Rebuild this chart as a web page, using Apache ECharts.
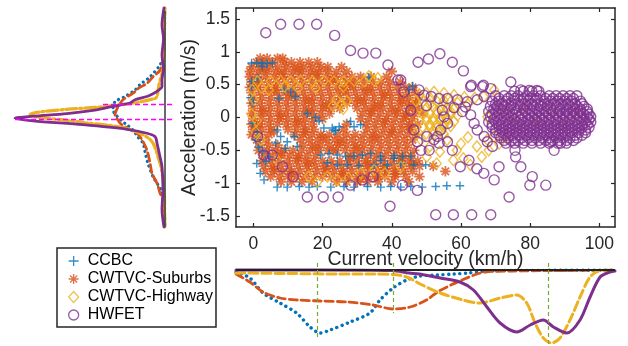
<!DOCTYPE html>
<html><head><meta charset="utf-8">
<script src="https://cdn.jsdelivr.net/npm/echarts@6/dist/echarts.min.js"></script>
<style>html,body{margin:0;padding:0;background:#fff}#c{width:628px;height:346px}</style>
</head><body><div id="c"></div>
<script>
// ---------- tick labels ----------
const xTicks = [0, 20, 40, 60, 80, 100];
const yTicks = [-1.5, -1, -0.5, 0, 0.5, 1, 1.5];
const seriesNames = ['CCBC', 'CWTVC-Suburbs', 'CWTVC-Highway', 'HWFET'];

// ---------- scatter data [velocity km/h, acceleration m/s] ----------
const ccbcPts = [
[-0.5,0.83],[1,0.83],[2.5,0.83],[4,0.82],[5.5,0.83],[2.6,0.78],[-0.5,0.55],[-0.5,0.47],[1.3,0.6],[-0.8,0.3],[0,0.22],
[8.9,0.42],[10.8,0.39],[12.2,0.32],[7.4,0.29],[33.4,0.61],[46,0.48],[45,0.42],
[-0.3,-0.09],[1.2,-0.22],[0.7,-0.34],[6.9,-0.19],[7.9,-0.29],[9.8,-0.37],[11.8,-0.29],[12.7,-0.44],[9.3,-0.47],[6.5,-0.39],[4.5,-0.6],[3.6,-0.67],[2.6,-0.52],[1.5,-0.45],
[20.4,-0.16],[22.8,-0.16],[23.3,-0.19],[23.8,-0.2],[24.8,-0.14],[28.1,-0.06],[29.1,-0.14],[31,-0.11],[15.6,0.06],[18,0],[19,-0.05],
[19.5,-0.57],[21.9,-0.55],[24.3,-0.57],[26.7,-0.59],[29.1,-0.59],[31.5,-0.57],[33.9,-0.55],[36.8,-0.59],[40.7,-0.58],[43.1,-0.59],[45.5,-0.59],
[21.4,-0.69],[24.3,-0.72],[27.2,-0.72],[30.5,-0.73],[34.9,-0.72],[38.7,-0.72],[42.6,-0.7],[46.4,-0.72],[49.8,-0.72],[36.8,-0.65],[40.7,-0.62],
[3.1,-0.95],[1,-0.7],[2,-0.85],
[6.9,-1.06],[9.8,-1.06],[13.3,-1.05],[16.1,-1.06],[18.5,-1.05],[22.4,-1.06],[26.2,-1.05],[29.1,-1.06],[33,-1.05],[36.8,-1.06],[39.7,-1.05],[42.6,-1.06],[45.5,-1.05],[48.8,-1.06],[52.7,-1.05],[55.9,-1.04],[59.7,-1.04]
];
// CWTVC-Suburbs: rows of [acceleration, [velocities]]
const suburbsRows = [
[0.90,[2,4,7,8.5]],
[0.84,[1,3,5.5,9,11,13.5,16,18.5]],
[0.77,[-0.5,2,4.5,7,9.5,12,14.5,17,19.5,21.5,25.5]],
[0.70,[-1,1.5,4,6.5,9,11.5,14,16.5,19,21.5,24,27,40]],
[0.62,[-1,1,3.5,6,8.5,11,13.5,16,18.5,21,23.5,26,28.5,31,34,38.5]],
[0.54,[-0.5,2,4.5,7,9.5,12,14.5,17,19.5,22,24.5,27,29.5,32,34.5,37,39.5,42.5]],
[0.46,[-1,1.5,4,6.5,9,11.5,14,16.5,19,21.5,24,26.5,29,31.5,34,36.5,39,41.5,44,46]],
[0.38,[-0.5,2,4.5,7,9.5,12,14.5,17,19.5,22,24.5,27,29.5,32,34.5,37,39.5,42,44.5,47]],
[0.30,[0,2.5,5,7.5,10,12.5,15,17.5,20,22.5,25,27.5,30,32.5,35,37.5,40,42.5,45,47.5]],
[0.22,[-0.5,2,4.5,7,9.5,12,14.5,17,19.5,22,24.5,27,29.5,32,34.5,37,39.5,42,44.5,47]],
[0.14,[0,2.5,5,7.5,10,12.5,15,17.5,20,22.5,25,30,32.5,35,37.5,40,42.5,45,47.5]],
[0.06,[-0.5,2,4.5,7,9.5,12,14.5,17,19.5,22,31.5,34,36.5,39,41.5,44,46.5,49]],
[-0.02,[0,2.5,5,7.5,10,12.5,15,17.5,20,31,33.5,36,38.5,41,43.5,46]],
[-0.10,[-0.5,2,4.5,7,9.5,12,14.5,17,27,32.5,35,37.5,40,42.5,45,47.5]],
[-0.18,[0,2.5,5,10,12.5,15,17.5,26,33,35.5,38,40.5,43,45.5]],
[-0.26,[-0.5,2,4.5,12,14.5,17,19.5,22,24.5,27,29.5,32,34.5,37,39.5,42,44.5,47]],
[-0.34,[1,3.5,13.5,16,18.5,21,23.5,26,28.5,31,33.5,36,38.5,41,43.5,46]],
[-0.42,[2,4.5,7,14.5,17,19.5,22,24.5,27,29.5,32,34.5,37,39.5,42,44.5]],
[-0.50,[1.5,4,6.5,9,11.5,14,16.5,19,21.5,24,26.5,29,31.5,34,36.5,39,41.5,44,46.5]],
[-0.58,[3,5.5,8,10.5,13,15.5,18,28,30.5,33,35.5,38,40.5,43,45.5]],
[-0.66,[2.5,5,7.5,10,12.5,15,17.5,20,22.5,25,27.5,30,32.5,35,37.5,40,42.5,45,47.5]],
[-0.74,[3,5.5,8,10.5,13,15.5,18,20.5,23,25.5,28,30.5,33,35.5,38,40.5,43,45.5,48,52]],
[-0.82,[3.5,6,8.5,11,13.5,16,18.5,21,23.5,26,28.5,31,33.5,36,38.5,41,43.5,46,55.5]],
[-0.90,[5,7.5,10,12.5,15,17.5,20,22.5,25,27.5,30,32.5,35,38,41,44,48]],
[-0.98,[8,11,14,17,24,27,30,33,36,40,45]]
];
// extra suburbs points between the rows
const suburbsExtra = [
[3,0.73],[8,0.66],[13,0.73],[18,0.66],[23,0.58],[28,0.5],[33,0.42],[38,0.34],[43,0.26],[46,0.18],
[1,0.5],[6,0.42],[11,0.34],[16,0.26],[21,0.18],[26,0.42],[31,0.26],[36,0.18],[41,0.1],[44,0.02],
[3,0.1],[8,0.02],[13,-0.06],[16,0.1],[1,-0.14],[6,-0.22],[15,-0.22],[20,-0.3],[25,-0.38],[30,-0.46],
[35,-0.3],[40,-0.22],[45,-0.14],[38,-0.06],[34,0.1],[18,-0.46],[23,-0.5],[28,-0.62],[33,-0.7],[38,-0.78],
[43,-0.62],[8,-0.54],[13,-0.62],[6,-0.78],[11,-0.86],[16,-0.7],[21,-0.78],[26,-0.86],[31,-0.94],[36,-0.9],[41,-0.86],[46,-0.7]
];
const highwayPts = [
[1.2,0.55],[5,0.55],[7.9,0.56],[10.8,0.55],[13.7,0.56],[17.1,0.55],[20.4,0.56],[23.3,0.55],[26.2,0.55],[29.1,0.56],[32,0.55],[34.9,0.56],
[-0.3,0.42],[2.5,0.45],[4.5,0.42],[9,0.47],[13,0.45],[18,0.45],[26,0.47],[33.4,0.63],[36,0.6],
[24,0.27],[25.5,0.2],[27,0.25],[26,0.13],[23,0.18],
[0.2,0.27],[0.7,-0.22],[2.1,-0.34],[-0.5,0.05],[1,-0.05],
[21.4,-0.9],[24.3,-0.95],[27.5,-0.92],[31,-0.85],[34.9,-0.8],[38,-0.85],[42.6,-0.75],[6.9,-0.65],[16,-0.9],[18.5,-0.98],
[48,0.35],[50,0.37],[52.2,0.39],[55.1,0.37],[58,0.34],[61,0.31],[64,0.3],[66.5,0.32],[69.6,0.42],
[47,0.25],[49,0.24],[51,0.26],[53,0.25],[55,0.26],[57,0.24],[59,0.22],[62,0.2],
[48,0.15],[50,0.14],[52,0.16],[54,0.15],[56,0.14],[58,0.13],[51,0.2],[53,0.1],[55,0.2],[57,0.09],
[49,0.05],[51,0.06],[53,0.05],[55,0.04],[57,0.05],[59,0.03],[50,0.0],[52,-0.01],[54,0.0],[56,-0.01],
[48,-0.05],[50,-0.05],[52,-0.06],[54,-0.04],[56,-0.05],[58,-0.06],[51,-0.1],[53,-0.11],[55,-0.1],
[49,-0.15],[51,-0.14],[53,-0.16],[55,-0.15],[57,-0.13],[52,-0.2],[54,-0.21],
[47,-0.25],[50,-0.24],[52,-0.26],[55,-0.25],
[56,-0.34],[58.8,-0.5],[60.7,-0.62],[62.7,-0.72],[64.6,-0.44],[67.6,-0.34],[69.6,-0.29],[57.8,-0.65],[53.9,-0.52],[51,-0.44],[48.4,-0.34],[50.1,-0.6],[53,-0.7],[60,-0.4],[62,-0.3],[66,-0.6],[68,-0.5],[71,-0.4],[73,-0.3],
[67.6,0.01],[71.5,0.11],[74,0.03],[76,-0.1],[78,0.15],[82,-0.05],[86,0.1],[90,-0.1],[93,0.05]
];
const hwfetPts = [
[3.6,1.29],[7.9,1.42],[13.2,1.42],[18.3,1.42],[23.5,1.25],[28.1,1.02],[31.7,0.98],[35.4,0.98],[38.9,0.8],[41.8,0.57],[42.6,0.57],[43.5,0.39],[47.6,0.84],[50.6,0.89],[53.9,0.97],[57.5,0.84],[60.7,0.71],[63,0.49],[66.5,0.49],[68.6,0.44],[74.4,0.54],[77.3,0.42],[79.7,0.41],[81.9,0.41],
[1.2,-0.29],[3.1,-0.57],[5.5,-0.57],[8.4,-0.75],[11.5,-0.9],[15.6,-1.21],[20.2,-1.21],[24.5,-1.21],[28.1,-1.03],[31.5,-0.95],[34.6,-0.9],[39.5,-1.35],[43.1,-1.03],[47.4,-1.11],[47.4,-0.37],[46.4,-0.19],[45.5,0.11],
[52.7,-1.48],[57.8,-1.48],[63.1,-1.48],[68.6,-1.48],[73.9,-1.21],[79.9,-1.03],[84.5,-1.03],[80.6,-0.9],[77.3,-0.75],[69.6,-0.95],[71,-0.75],[66.6,-0.85],[64.6,-0.78],[59.8,-0.75],[62.3,-0.65],[57.5,-0.5],[56.1,-0.37],[53.7,-0.39],[52.2,-0.34],[50.1,-0.29],[50.8,-0.5],[48.4,-0.5],[75.8,-0.6],[75.6,-0.5],[86.9,-0.5],[88.8,-0.39],[85.9,-0.37],
[47.9,0.42],[49.3,0.34],[51.4,0.32],[53.7,0.29],[56.1,0.29],[59,0.27],[61.8,0.24],[64.7,0.27],[66.7,0.32],[54.6,0.11],[55.1,0.01],[56.1,-0.09],[54.1,-0.19],[53.2,-0.29],[60.4,0.09],[62.8,0.04],[63.8,-0.09],[64.7,-0.19],[66.7,-0.29],[67.6,-0.37],[69.1,-0.44],[62.8,0.47],[66.2,0.47],[61.3,0.16],[58,0.15],[50,0.18]
];
const hwfetRows = [
[0.40,[75.5,78,80.5,82.5]],
[0.33,[70,72.5,74.5,76.5,79,81,83,85.5,87.5,89.5,91.5,93.5]],
[0.29,[71,73.5,75.5,78,80,82,84.5,86.5,88.5,90.5,92.5]],
[0.25,[69,71,73,75.5,77.5,79.5,81.5,84,86,88,90,92,94.5]],
[0.21,[70,72,74.5,76.5,78.5,80.5,83,85,87,89,91,93,95]],
[0.17,[68.5,70.5,72.5,74.5,77,79,81,83,85,87.5,89.5,91.5,93.5,95.5]],
[0.13,[69.5,71.5,73.5,75.5,78,80,82,84,86,88.5,90.5,92.5,94.5,96.5]],
[0.09,[68,70,72,74,76,78.5,80.5,82.5,84.5,86.5,88.5,90.5,92.5,94.5,96.5]],
[0.05,[69,71,73,75,77.5,79.5,81.5,83.5,85.5,87.5,89.5,91.5,93.5,95.5,97]],
[0.01,[68.5,70.5,72.5,74.5,76.5,78.5,80.5,82.5,84.5,86.5,88.5,90.5,92.5,94.5,96.5,97.5]],
[-0.03,[69.5,71.5,73.5,75.5,77.5,79.5,81.5,83.5,85.5,87.5,89.5,91.5,93.5,95.5,97]],
[-0.07,[68,70,72,74,76,78,80,82,84,86,88,90,92,94,96,97.5]],
[-0.11,[69,71,73,75,77,79,81,83,85,87,89,91,93,95,96.5]],
[-0.15,[69,71,73,75,77,79,81,83,85,87,89,91,93,95,97]],
[-0.19,[70,72,74,76,78,80,82,84,86,88,90,92,94,96]],
[-0.23,[70,72,74,76,78,80,82,84,86,88,90,92,94,96]],
[-0.27,[71,73,75,77,79,81,83,85,87,89,91,93,95]],
[-0.31,[71.5,73.5,75.5,77.5,79.5,81.5,83.5,85.5,87.5,89.5,91.5,93.5]],
[-0.35,[72.5,74.5,76.5,78.5,80.5,82.5,84.5,86.5,88.5,90.5,92.5]],
[-0.39,[73,75.5,78,80.5,83,85.5,88,90.5]]
];

// ---------- acceleration density (left) [acceleration, density] ----------
const accCCBC = [[1.667,0.3],[1.2,0.5],[0.95,1.5],[0.8,5],[0.62,15],[0.5,25],[0.42,30],[0.32,40],[0.24,50],[0.12,52],[0.02,48],[-0.09,40],[-0.19,32],[-0.3,27],[-0.39,22],[-0.52,20],[-0.7,17],[-0.9,12],[-1.0,8],[-1.1,4],[-1.25,1.5],[-1.45,0.5],[-1.667,0.2]];
const accSuburbs = [[1.667,0.2],[1.2,0.5],[1.0,1],[0.88,2],[0.72,5],[0.62,12],[0.52,18],[0.45,26],[0.37,32],[0.27,42],[0.16,47],[0.04,50],[-0.04,47],[-0.1,44],[-0.16,38],[-0.24,28],[-0.34,23],[-0.5,18],[-0.69,15],[-0.85,13],[-1.0,8],[-1.15,5],[-1.26,2],[-1.45,0.5],[-1.667,0.2]];
const accHighway = [[1.667,0.3],[1.2,0.8],[0.9,1.2],[0.72,2],[0.62,4],[0.5,6],[0.4,7],[0.32,8],[0.29,10],[0.22,32],[0.16,65],[0.125,98],[0.09,122],[0.064,132],[0.04,135],[0,125],[-0.04,100],[-0.08,80],[-0.12,55],[-0.16,40],[-0.24,25],[-0.32,16],[-0.39,12],[-0.5,9],[-0.6,7],[-0.75,4],[-0.95,2],[-1.2,0.5],[-1.667,0.3]];
const accHWFET = [[1.667,1],[1.41,3],[1.2,1.5],[0.95,3],[0.75,1.5],[0.57,3],[0.47,3],[0.42,6],[0.36,12],[0.32,18],[0.27,30],[0.22,35],[0.19,45],[0.16,55],[0.11,72],[0.06,98],[0.02,132],[-0.01,150],[-0.05,132],[-0.11,82],[-0.18,38],[-0.24,18],[-0.29,10],[-0.39,8],[-0.6,5],[-0.75,3],[-1.1,2],[-1.4,3],[-1.667,1]];
const accMarks = [0.2, -0.023];

// ---------- velocity density (bottom) [velocity, density] ----------
const velCCBC = [[-5,2],[-1,8],[2.8,23],[7.7,33],[12.5,43],[16.4,57],[19.3,63],[22.2,60],[28,52],[33.7,43],[36.6,30],[40.4,18],[44.3,10],[48.2,6],[53,5],[58,4],[62,3],[67,1],[75,0.5],[90,0.3],[104.5,0.3]];
const velSuburbs = [[-5,4],[-1,12],[2.8,22],[7.7,28],[12.8,30],[19.4,31],[27,32],[34.6,35],[40.4,39],[45.3,37],[50,30],[53.7,21],[60.3,10],[67,2],[75,1],[90,0.5],[104.5,0.3]];
const velHighway = [[-5,3],[10,3.5],[25,4],[35,4],[42,5],[45,8],[48.2,14],[54,23],[60.6,30],[65.5,33],[71.3,28],[76.1,25],[79,33],[81.4,53],[83.8,68],[86.2,73],[88.6,68],[91.5,50],[94.4,27],[97.3,7],[100.2,0.5],[104.5,0]];
const velHWFET = [[-5,0],[20,0],[40,0.5],[45,3],[48,4],[54,8],[59.7,12],[63.6,20],[67.5,37],[71.3,53],[76.1,62],[80,55],[83.8,50],[86.7,57],[90.6,63],[94.4,50],[97.3,27],[100.2,7],[103,2],[104.5,1]];
const velMarks = [[18.6,70],[40.3,43],[85.2,76]];

// ---------- styling ----------
const C = {blue:'#0072BD', orange:'#D95319', yellow:'#EDB120', purple:'#7E2F8E', axis:'#262626'};
const FONT = 'Liberation Sans, Arial, Helvetica, sans-serif';
const PLUS = 'path://M5,0L5,10M0,5L10,5';
const STAR = 'path://M5,0L5,10M0,5L10,5M1.5,1.5L8.5,8.5M1.5,8.5L8.5,1.5';

function rowsToPts(rows){ const o=[]; rows.forEach(([a,vs])=>vs.forEach(v=>o.push([v,a]))); return o; }
const suburbsPts = rowsToPts(suburbsRows).concat(suburbsExtra);
const hwfetAll = hwfetPts.concat(rowsToPts(hwfetRows));
const swap = arr => arr.map(p=>[p[1],p[0]]);

const X0=-5, X1=104.5, Y0=-1.667, Y1=1.667;
const axisCommon = {axisLine:{onZero:false,lineStyle:{color:C.axis,width:1.5}}, splitLine:{show:false}};
const hiddenAx = (o)=>Object.assign({type:'value', show:false, splitLine:{show:false}, axisLine:{onZero:false}}, o);

const lineS = (name, data, color, type, width, xi, yi, extra) => Object.assign({
  type:'line', name, data, xAxisIndex:xi, yAxisIndex:yi, showSymbol:false, symbol:'none', smooth:0.3,
  lineStyle:{color, width, type, cap:'round'}, silent:true, animation:false, z:3
}, extra||{});

const chart = echarts.init(document.getElementById('c'), null, {renderer:'canvas'});
chart.setOption({
  animation:false,
  backgroundColor:'#fff',
  textStyle:{fontFamily:FONT},
  grid:[
    {left:236, top:8, width:379, height:219, outerBoundsMode:'none', containLabel:false},
    {left:0, top:8, width:173, height:219, outerBoundsMode:'none', containLabel:false},
    {left:236, top:263, width:379, height:83, outerBoundsMode:'none', containLabel:false}
  ],
  xAxis:[
    Object.assign({type:'value', gridIndex:0, min:X0, max:X1, position:'bottom',
      axisTick:{inside:true, length:4, customValues:xTicks, lineStyle:{color:C.axis,width:1.2}},
      axisLabel:{customValues:xTicks, fontSize:17.5, color:C.axis, margin:8, fontFamily:FONT},
      name:'Current velocity (km/h)', nameLocation:'middle', nameGap:23, nameMoveOverlap:false,
      nameTextStyle:{fontSize:19.5, color:C.axis, fontFamily:FONT}}, axisCommon),
    Object.assign({type:'value', gridIndex:0, min:X0, max:X1, position:'top',
      axisTick:{inside:true, length:4, customValues:xTicks, lineStyle:{color:C.axis,width:1.2}},
      axisLabel:{show:false}}, axisCommon),
    hiddenAx({gridIndex:1, min:-8, max:165, inverse:true}),
    hiddenAx({gridIndex:2, min:X0, max:X1})
  ],
  yAxis:[
    Object.assign({type:'value', gridIndex:0, min:Y0, max:Y1, position:'left',
      axisTick:{inside:true, length:4, customValues:yTicks, lineStyle:{color:C.axis,width:1.2}},
      axisLabel:{customValues:yTicks, fontSize:17.5, color:C.axis, margin:6, fontFamily:FONT},
      name:'Acceleration (m/s)', nameLocation:'middle', nameGap:36, nameRotate:90, nameMoveOverlap:false,
      nameTextStyle:{fontSize:19.5, color:C.axis, fontFamily:FONT}}, axisCommon),
    Object.assign({type:'value', gridIndex:0, min:Y0, max:Y1, position:'right',
      axisTick:{inside:true, length:4, customValues:yTicks, lineStyle:{color:C.axis,width:1.2}},
      axisLabel:{show:false}}, axisCommon),
    hiddenAx({gridIndex:1, min:Y0, max:Y1}),
    hiddenAx({gridIndex:2, min:-7, max:76, inverse:true})
  ],
  legend:{
    orient:'vertical', left:57, top:248, itemWidth:10, itemHeight:11, itemGap:2,
    padding:[5,3,4,11], borderColor:'#262626', borderWidth:1.5, backgroundColor:'#fff',
    selectedMode:false, data:seriesNames,
    itemStyle:{borderWidth:1.3},
    textStyle:{fontSize:16, color:'#000', fontFamily:FONT, padding:[0,0,0,4]}
  },
  series:[
    {type:'scatter', name:'CWTVC-Suburbs', data:suburbsPts, xAxisIndex:0, yAxisIndex:0, symbol:STAR, symbolSize:10.5,
      itemStyle:{color:'transparent', borderColor:C.orange, borderWidth:1.8}, silent:true, animation:false},
    {type:'scatter', name:'CCBC', data:ccbcPts, xAxisIndex:0, yAxisIndex:0, symbol:PLUS, symbolSize:8.5,
      itemStyle:{color:'transparent', borderColor:C.blue, borderWidth:1.4}, silent:true, animation:false},
    {type:'scatter', name:'CWTVC-Highway', data:highwayPts, xAxisIndex:0, yAxisIndex:0, symbol:'diamond', symbolSize:[9,11],
      itemStyle:{color:'transparent', borderColor:C.yellow, borderWidth:1.4}, silent:true, animation:false},
    {type:'scatter', name:'HWFET', data:hwfetAll, xAxisIndex:0, yAxisIndex:0, symbol:'circle', symbolSize:10,
      itemStyle:{color:'transparent', borderColor:C.purple, borderWidth:1.4}, silent:true, animation:false},

    // left density
    lineS('acc-ccbc', swap(accCCBC), C.blue, [0.1,5], 3.2, 2, 2, {
      markLine:{silent:true, animation:false, symbol:['none','none'], label:{show:false},
        data:[
          [{coord:[0,Y0], lineStyle:{color:'#444', width:1.6, type:'solid'}},{coord:[0,1.62]}],
          [{coord:[-7,accMarks[0]], lineStyle:{color:'#FF00FF', width:1.3, type:[5,3]}},{coord:[62,accMarks[0]]}],
          [{coord:[-7,accMarks[1]], lineStyle:{color:'#FF00FF', width:1.3, type:[5,3]}},{coord:[152,accMarks[1]]}]
        ]}}),
    lineS('acc-sub', swap(accSuburbs), C.orange, [8,4], 2.8, 2, 2),
    lineS('acc-hw', swap(accHighway), C.yellow, [11,3,2,3], 3.2, 2, 2),
    lineS('acc-hwfet', swap(accHWFET), C.purple, 'solid', 2.8, 2, 2),

    // bottom density
    lineS('vel-ccbc', velCCBC, C.blue, [0.1,5.5], 3.4, 3, 3, {
      markLine:{silent:true, animation:false, symbol:['none','none'], label:{show:false},
        data:[
          [{coord:[X0,0], lineStyle:{color:'#222', width:1.8, type:'solid'}},{coord:[X1,0]}]
        ].concat(velMarks.map(m=>[{coord:[m[0],-7], lineStyle:{color:'#77AC30', width:1.2, type:[4,3]}},{coord:[m[0],m[1]]}]))}}),
    lineS('vel-sub', velSuburbs, C.orange, [8,4], 2.8, 3, 3),
    lineS('vel-hw', velHighway, C.yellow, [9,4], 3, 3, 3),
    lineS('vel-hwfet', velHWFET, C.purple, 'solid', 3, 3, 3)
  ]
});
</script></body></html>
